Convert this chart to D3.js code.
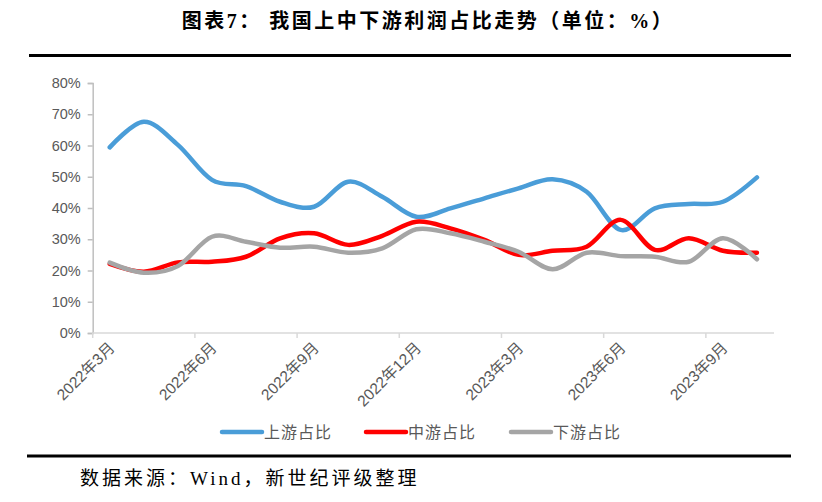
<!DOCTYPE html>
<html><head><meta charset="utf-8">
<script src="https://cdn.jsdelivr.net/npm/d3@7/dist/d3.min.js"></script>
<style>body{margin:0;background:#fff;}svg{display:block;}</style>
</head><body>
<svg id="c" width="822" height="502"></svg>
<script>
const months = ["2022年3月","2022年4月","2022年5月","2022年6月","2022年7月","2022年8月","2022年9月","2022年10月","2022年11月","2022年12月","2023年1月","2023年2月","2023年3月","2023年4月","2023年5月","2023年6月","2023年7月","2023年8月","2023年9月","2023年10月"];
const upstream   = [59.4,67.6,60.2,49.0,47.0,42.0,40.4,48.4,43.6,37.2,39.9,43.1,46.3,49.2,45.2,33.0,39.9,41.3,42.0,49.8];
const midstream  = [22.1,19.6,22.6,22.8,24.4,30.3,31.9,28.2,31.1,35.6,33.5,29.8,25.0,26.3,27.6,36.2,26.6,30.3,26.3,25.7];
const downstream = [22.5,19.3,21.4,30.8,29.2,27.3,27.6,25.7,27.1,33.2,31.9,29.2,26.0,20.4,25.7,24.6,24.4,22.8,30.3,23.6];
const yTicks = [0,10,20,30,40,50,60,70,80];
const labelMonths = ["2022年3月","2022年6月","2022年9月","2022年12月","2023年3月","2023年6月","2023年9月"];
const seriesNames = ["上游占比","中游占比","下游占比"];
const seriesColors = ["#4a9dd8","#ff0000","#a5a5a5"];

const svg = d3.select("#c");
const pLeft = 92.7, pRight = 774, pTop = 83, pBottom = 333;

const x = d3.scaleBand().domain(months).range([pLeft, pRight]).paddingInner(0).paddingOuter(0);
const y = d3.scaleLinear().domain([0, 80]).range([pBottom, pTop]);

// title
svg.append("text").attr("x", 428).attr("y", 28).attr("text-anchor", "middle")
  .attr("font-family", "'Liberation Serif','Noto Sans CJK SC',serif").attr("font-weight", "bold")
  .attr("font-size", 20).attr("letter-spacing", 2.5).attr("fill", "#000").text("图表7：  我国上中下游利润占比走势（单位：%）");
svg.append("line").attr("x1", 29).attr("x2", 791).attr("y1", 55.5).attr("y2", 55.5)
  .attr("stroke", "#000").attr("stroke-width", 3);
svg.append("line").attr("x1", 27).attr("x2", 791).attr("y1", 456).attr("y2", 456)
  .attr("stroke", "#000").attr("stroke-width", 3);

// y axis
const yAxis = svg.append("g").attr("transform", `translate(${pLeft},0)`)
  .call(d3.axisLeft(y).tickValues(yTicks).tickFormat(d => d + "%").tickSize(5).tickPadding(7));
yAxis.select(".domain").attr("stroke", "#bfbfbf").attr("stroke-width", 1.5);
yAxis.selectAll(".tick line").attr("stroke", "#bfbfbf").attr("stroke-width", 1.5);
yAxis.selectAll("text").attr("font-family", "'Liberation Sans',Arial,sans-serif")
  .attr("font-size", 14.5).attr("fill", "#595959");

// x axis (ticks between categories every 3)
const xg = svg.append("g");
xg.append("line").attr("x1", pLeft).attr("x2", pRight).attr("y1", pBottom).attr("y2", pBottom)
  .attr("stroke", "#d9d9d9").attr("stroke-width", 1.5);
months.forEach((m, i) => {
  if (i % 3 === 0) {
    const tx = x(m);
    xg.append("line").attr("x1", tx).attr("x2", tx).attr("y1", pBottom).attr("y2", pBottom + 5)
      .attr("stroke", "#d9d9d9").attr("stroke-width", 1.5);
  }
});
labelMonths.forEach(m => {
  const cx = x(m) + x.bandwidth() / 2;
  xg.append("text").attr("transform", `translate(${cx + 3},${pBottom + 13}) rotate(-45)`)
    .attr("text-anchor", "end").attr("dominant-baseline", "middle")
    .attr("font-family", "'Liberation Sans','Noto Sans CJK SC',sans-serif")
    .attr("font-size", 15.5).attr("fill", "#595959").text(m);
});

// lines
const line = d3.line().x((d, i) => x(months[i]) + x.bandwidth() / 2).y(d => y(d))
  .curve(d3.curveCardinal.tension(0));
[upstream, midstream, downstream].forEach((data, k) => {
  svg.append("path").datum(data).attr("d", line).attr("fill", "none")
    .attr("stroke", seriesColors[k]).attr("stroke-width", 4.5)
    .attr("stroke-linecap", "round").attr("stroke-linejoin", "round");
});

// legend
const legX = [220, 364, 509];
seriesNames.forEach((n, k) => {
  svg.append("line").attr("x1", legX[k] + 2).attr("x2", legX[k] + 42).attr("y1", 432).attr("y2", 432)
    .attr("stroke", seriesColors[k]).attr("stroke-width", 4.5).attr("stroke-linecap", "round");
  svg.append("text").attr("x", legX[k] + 44).attr("y", 438)
    .attr("font-family", "'Noto Sans CJK SC',sans-serif").attr("font-size", 16)
    .attr("letter-spacing", 1).attr("fill", "#595959").text(n);
});

// source
svg.append("text").attr("x", 80).attr("y", 485)
  .attr("font-family", "'Liberation Serif','Noto Sans CJK SC',serif")
  .attr("font-size", 19).attr("fill", "#000").attr("letter-spacing", 3)
  .text("数据来源：Wind，新世纪评级整理");
</script>
</body></html>
